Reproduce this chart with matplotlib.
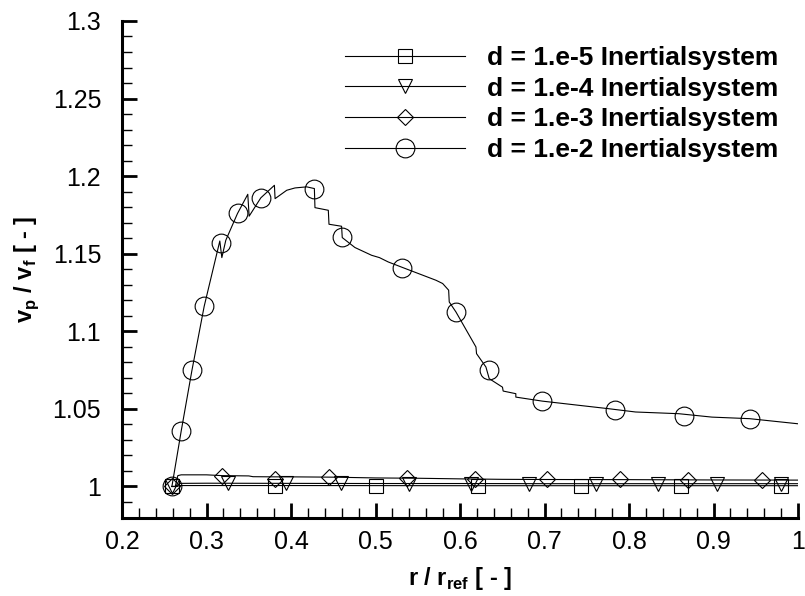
import matplotlib
matplotlib.use("Agg")
import matplotlib.pyplot as plt
from matplotlib.legend_handler import HandlerTuple

plt.rcParams["font.family"] = ["Liberation Sans", "DejaVu Sans"]
plt.rcParams["mathtext.fontset"] = "custom"
plt.rcParams["mathtext.rm"] = "Liberation Sans"
plt.rcParams["mathtext.bf"] = "Liberation Sans:bold"

# d = 1.e-2 curve (line path and marker points)
x_e2 = [0.259, 0.270, 0.2827, 0.2972, 0.3157, 0.3181, 0.3228, 0.3366, 0.3488,
        0.3504, 0.3642, 0.3803, 0.3811, 0.3949, 0.4047, 0.4185, 0.4276, 0.4283,
        0.4441, 0.4449, 0.4598, 0.4606, 0.4756, 0.4953, 0.5046, 0.5150, 0.5321,
        0.5715, 0.5794, 0.5865, 0.5872, 0.5951, 0.6188, 0.6195, 0.6306, 0.6345,
        0.6502, 0.6510, 0.6660, 0.6660, 0.6974, 0.7407, 0.7762, 0.8077, 0.8588,
        0.8981, 0.9426, 1.0]
y_e2 = [1.000, 1.0357, 1.0748, 1.1161, 1.1582, 1.1475, 1.1587, 1.1759, 1.1883,
        1.1742, 1.1860, 1.1941, 1.1855, 1.1909, 1.1924, 1.1931, 1.1920, 1.1797,
        1.1780, 1.1690, 1.1677, 1.1604, 1.1540, 1.1490, 1.1475, 1.1447, 1.1411,
        1.1329, 1.1308, 1.1265, 1.1189, 1.1125, 1.0899, 1.0856, 1.0770, 1.0695,
        1.0640, 1.0615, 1.0598, 1.0576, 1.0550, 1.0523, 1.0501, 1.0480, 1.0469,
        1.0447, 1.0437, 1.0404]
mx_e2 = [0.259, 0.270, 0.283, 0.297, 0.3166, 0.3367, 0.364, 0.4277, 0.46, 0.531,
         0.595, 0.6337, 0.6974, 0.783, 0.865, 0.9426]
my_e2 = [1.000, 1.0357, 1.0748, 1.116, 1.157, 1.176, 1.186, 1.192, 1.161, 1.141,
         1.1125, 1.0748, 1.055, 1.049, 1.0454, 1.0437]

# d = 1.e-3
x_e3 = [0.259, 0.263, 0.266, 0.270, 0.300, 0.318, 0.350, 0.355, 0.380, 0.400,
        0.450, 0.500, 0.550, 0.600, 0.650, 0.700, 0.800, 0.900, 1.0]
y_e3 = [1.000, 1.000, 1.0070, 1.0075, 1.0075, 1.0070, 1.0068, 1.0063, 1.0062,
        1.0062, 1.0060, 1.0055, 1.0053, 1.0049, 1.0046, 1.0045, 1.0044, 1.0042, 1.0041]
mx_e3 = [0.259, 0.318, 0.381, 0.4448, 0.537, 0.618, 0.7034, 0.7887, 0.8698, 0.957]
my_e3 = [1.000, 1.0068, 1.0050, 1.0058, 1.0055, 1.0046, 1.0046, 1.0045, 1.0044, 1.0042]

# d = 1.e-4
x_e4 = [0.259, 0.265, 0.268, 0.300, 0.400, 0.500, 0.600, 0.700, 0.800, 0.900, 1.0]
y_e4 = [1.000, 1.000, 1.0020, 1.0021, 1.0020, 1.0019, 1.0019, 1.0018, 1.0018, 1.0018, 1.0018]
mx_e4 = [0.259, 0.325, 0.3936, 0.4594, 0.539, 0.613, 0.6821, 0.7604, 0.834, 0.904, 0.98]
my_e4 = [1.000, 1.0021, 1.0020, 1.0020, 1.0019, 1.0019, 1.0018, 1.0018, 1.0018, 1.0018, 1.0018]

# d = 1.e-5
x_e5 = [0.259, 0.265, 0.268, 0.400, 0.600, 0.800, 1.0]
y_e5 = [1.000, 1.000, 1.0006, 1.0006, 1.0005, 1.0005, 1.0005]
mx_e5 = [0.259, 0.381, 0.500, 0.621, 0.743, 0.861, 0.98]
my_e5 = [1.000, 1.0006, 1.0006, 1.0005, 1.0005, 1.0005, 1.0005]

labels = ["d = 1.e-5 Inertialsystem", "d = 1.e-4 Inertialsystem",
          "d = 1.e-3 Inertialsystem", "d = 1.e-2 Inertialsystem"]

fig = plt.figure(figsize=(8.05, 5.96), dpi=100)
ax = fig.add_axes([0.1516, 0.1317, 0.8398, 0.8331])

series = [
    (x_e5, y_e5, mx_e5, my_e5, "s", 9.5),
    (x_e4, y_e4, mx_e4, my_e4, "v", 10.5),
    (x_e3, y_e3, mx_e3, my_e3, "D", 8.5),
    (x_e2, y_e2, mx_e2, my_e2, "o", 13.5),
]
handles = []
for xs, ys, mxs, mys, mk, ms in series:
    ln, = ax.plot(xs, ys, "-", color="black", lw=0.8)
    mm, = ax.plot(mxs, mys, ls="none", marker=mk, ms=ms, mfc="none",
                  mec="black", mew=0.8)
    handles.append((ln, mm))

ax.set_xlim(0.2, 1.0)
ax.set_ylim(0.98, 1.3)
ax.set_xticks([0.2, 0.3, 0.4, 0.5, 0.6, 0.7, 0.8, 0.9, 1.0])
ax.set_xticklabels(["0.2", "0.3", "0.4", "0.5", "0.6", "0.7", "0.8", "0.9", "1"])
ax.set_yticks([1.0, 1.05, 1.1, 1.15, 1.2, 1.25, 1.3])
ax.set_yticklabels(["1", "1.05", "1.1", "1.15", "1.2", "1.25", "1.3"])
ax.set_xticks([0.2 + 0.02 * i for i in range(41)], minor=True)
ax.set_yticks([0.98 + 0.01 * i for i in range(33)], minor=True)

for s in ["top", "right"]:
    ax.spines[s].set_visible(False)
for s in ["left", "bottom"]:
    ax.spines[s].set_linewidth(2.2)

ax.tick_params(which="major", direction="in", length=10.5, width=2, labelsize=18)
ax.tick_params(which="minor", direction="in", length=7, width=1)
ax.tick_params(axis="x", which="major", pad=9)
ax.tick_params(axis="y", which="major", pad=15)

ax.set_xlabel(r"r / r$_{\mathbf{ref}}$ [ - ]", fontsize=17, fontweight="bold", labelpad=8)
ax.set_ylabel(r"v$_{\mathbf{p}}$ / v$_{\mathbf{f}}$ [ - ]", fontsize=17, fontweight="bold", labelpad=8)

ax.legend(handles, labels, handler_map={tuple: HandlerTuple(ndivide=1)},
          loc="upper left", bbox_to_anchor=(345 / 805, 1 - 46 / 596),
          bbox_transform=fig.transFigure, frameon=False, borderpad=0,
          borderaxespad=0, handlelength=4.55, handletextpad=0.83,
          labelspacing=0.25, prop={"size": 19, "weight": "bold"})

fig.savefig("out.png", dpi=100)
